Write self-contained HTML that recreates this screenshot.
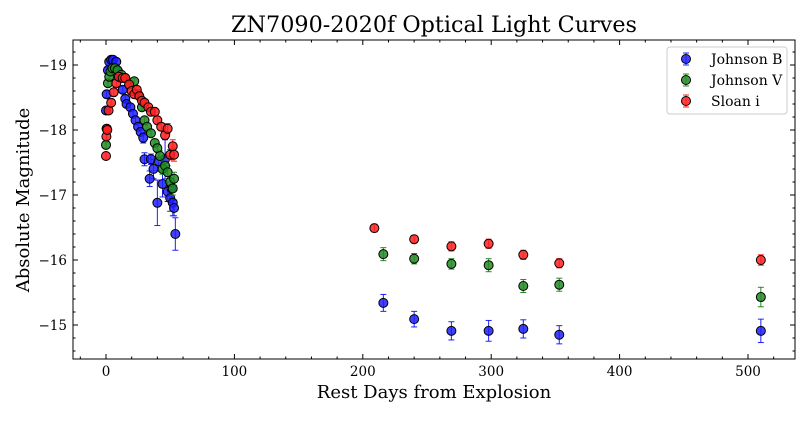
<!DOCTYPE html>
<html><head><meta charset="utf-8"><style>
body{margin:0;background:#fff;}
svg text{font-family:"DejaVu Serif","Liberation Serif",serif;fill:#000;}
</style></head><body>
<svg id="chart" width="809" height="416" xmlns="http://www.w3.org/2000/svg">
<text x="434" y="32" font-size="22.3" text-anchor="middle">ZN7090-2020f Optical Light Curves</text>
<g id="plot"></g>
<text x="434" y="398" font-size="18" text-anchor="middle">Rest Days from Explosion</text>
<text transform="translate(29,200) rotate(-90)" font-size="18" text-anchor="middle">Absolute Magnitude</text>
</svg>
<script>
const xTicks=[0,100,200,300,400,500];
const yTicks=[-19,-18,-17,-16,-15];
const bDays=[0,0.5,1.5,2.5,4,5.5,8,9.5,11,13,15,16,19,21,23,25,27,29,30,35,34,37,40,41,44,46,48,50,51,52,53,54,216,240,269,298,325,353,510];
const bMag=[-18.3,-18.55,-18.92,-19.05,-19.08,-19.08,-19.05,-18.9,-18.8,-18.62,-18.48,-18.4,-18.35,-18.25,-18.15,-18.05,-17.97,-17.88,-17.55,-17.55,-17.25,-17.4,-16.88,-17.52,-17.17,-17.55,-17.05,-16.95,-17.1,-16.88,-16.8,-16.4,-15.34,-15.09,-14.91,-14.91,-14.94,-14.85,-14.91];
const bErr=[0.05,0.05,0.05,0.05,0.05,0.05,0.05,0.05,0.05,0.05,0.05,0.05,0.05,0.05,0.05,0.05,0.06,0.08,0.1,0.08,0.12,0.15,0.35,0.15,0.2,0.3,0.15,0.2,0.15,0.2,0.12,0.25,0.13,0.12,0.14,0.16,0.14,0.14,0.18];
const vDays=[0,0.5,1.5,2.5,3.5,5,7,9,12,15,18,22,25,28,30,32,35,38,40,42,44,46,48,50,52,53,216,240,269,298,325,353,510];
const vMag=[-17.77,-18.02,-18.72,-18.82,-18.9,-18.95,-18.95,-18.92,-18.85,-18.8,-18.7,-18.75,-18.55,-18.35,-18.15,-18.05,-17.95,-17.8,-17.72,-17.6,-17.4,-17.45,-17.35,-17.2,-17.1,-17.25,-16.09,-16.02,-15.94,-15.92,-15.6,-15.62,-15.43];
const vErr=[0.05,0.05,0.05,0.05,0.05,0.05,0.05,0.05,0.05,0.05,0.05,0.05,0.05,0.05,0.05,0.05,0.05,0.06,0.06,0.08,0.08,0.1,0.1,0.1,0.1,0.1,0.1,0.08,0.08,0.1,0.1,0.1,0.15];
const iDays=[0,0.3,0.6,1,2,4,6,8,10,13,15,18,20,22,24,26,28,30,33,35,38,40,43,46,48,50,52,53,209,240,269,298,325,353,510];
const iMag=[-17.6,-17.9,-18.02,-18.0,-18.3,-18.42,-18.58,-18.72,-18.82,-18.8,-18.8,-18.7,-18.6,-18.55,-18.62,-18.52,-18.45,-18.42,-18.35,-18.28,-18.28,-18.15,-18.05,-17.92,-18.02,-17.62,-17.75,-17.62,-16.49,-16.32,-16.21,-16.25,-16.08,-15.95,-16.0];
const iErr=[0.05,0.05,0.05,0.05,0.05,0.05,0.05,0.05,0.05,0.05,0.05,0.05,0.05,0.05,0.05,0.05,0.05,0.05,0.05,0.05,0.05,0.06,0.06,0.06,0.08,0.08,0.1,0.1,0.06,0.06,0.07,0.07,0.07,0.07,0.08];

const L=73,R=795,T=40,B=359;
const xs=d=>106+d*1.284;
const ys=m=>65+(m+19)*65;
const NS="http://www.w3.org/2000/svg";
const g=document.getElementById('plot');
function mk(t,a){const e=document.createElementNS(NS,t);for(const k in a)e.setAttribute(k,a[k]);return e;}
function series(days,mag,err,col,name){
  const grp=mk('g',{});
  
  
  days.forEach((d,i)=>{
    const x=xs(d),y=ys(mag[i]),y1=ys(mag[i]-err[i]),y2=ys(mag[i]+err[i]);
    grp.appendChild(mk('line',{x1:x,x2:x,y1:y1,y2:y2,stroke:col,'stroke-width':1}));
    grp.appendChild(mk('line',{x1:x-3,x2:x+3,y1:y1,y2:y1,stroke:col,'stroke-width':1}));
    grp.appendChild(mk('line',{x1:x-3,x2:x+3,y1:y2,y2:y2,stroke:col,'stroke-width':1}));
  });
  days.forEach((d,i)=>{
    const c=mk('circle',{cx:xs(d),cy:ys(mag[i]),r:4.5,fill:col,'fill-opacity':0.85,stroke:'#000','stroke-width':1});
    
    
    grp.appendChild(c);
  });
  g.appendChild(grp);
}
series(bDays,bMag,bErr,'#1f1fff','johnson-b');
series(vDays,vMag,vErr,'#228b22','johnson-v');
series(iDays,iMag,iErr,'#ff2020','sloan-i');
const fr=mk('rect',{x:L,y:T,width:R-L,height:B-T,fill:'none',stroke:'#000','stroke-width':1});


g.appendChild(fr);
for(let d=-20;d<=530;d+=20){const x=xs(d);if(x<L||x>R)continue;const maj=d%100===0;const len=maj?5:2.5;
 g.appendChild(mk('line',{x1:x,x2:x,y1:B,y2:B-len,stroke:'#000'}));g.appendChild(mk('line',{x1:x,x2:x,y1:T,y2:T+len,stroke:'#000'}));}
xTicks.forEach(d=>{const t=mk('text',{x:xs(d),y:B+17,'font-size':13.5,'text-anchor':'middle'});t.textContent=d;g.appendChild(t);});
for(let m=-19.4;m<=-14.5;m+=0.2){const mm=Math.round(m*10)/10;const y=ys(mm);if(y<T||y>B)continue;const maj=Math.abs(mm-Math.round(mm))<1e-6;const len=maj?5:2.5;
 g.appendChild(mk('line',{x1:L,x2:L+len,y1:y,y2:y,stroke:'#000'}));g.appendChild(mk('line',{x1:R,x2:R-len,y1:y,y2:y,stroke:'#000'}));}
yTicks.forEach(m=>{const t=mk('text',{x:L-6,y:ys(m)+5,'font-size':13.5,'text-anchor':'end'});t.textContent='\u2212'+Math.abs(m);g.appendChild(t);});
const lg=mk('g',{});
lg.appendChild(mk('rect',{x:667,y:47,width:120,height:67,rx:3,fill:'#fff',stroke:'#ccc'}));
[['Johnson B','#1f1fff',59],['Johnson V','#228b22',80],['Sloan i','#ff2020',101]].forEach(([n,c,y])=>{
 const e=mk('g',{});
 e.appendChild(mk('line',{x1:686,x2:686,y1:y-6,y2:y+6,stroke:c}));
 e.appendChild(mk('line',{x1:683,x2:689,y1:y-6,y2:y-6,stroke:c}));
 e.appendChild(mk('line',{x1:683,x2:689,y1:y+6,y2:y+6,stroke:c}));
 e.appendChild(mk('circle',{cx:686,cy:y,r:4.5,fill:c,'fill-opacity':0.85,stroke:'#000'}));
 const t=mk('text',{x:711,y:y+5,'font-size':14});t.textContent=n;e.appendChild(t);lg.appendChild(e);});
g.appendChild(lg);
</script>
</body></html>
